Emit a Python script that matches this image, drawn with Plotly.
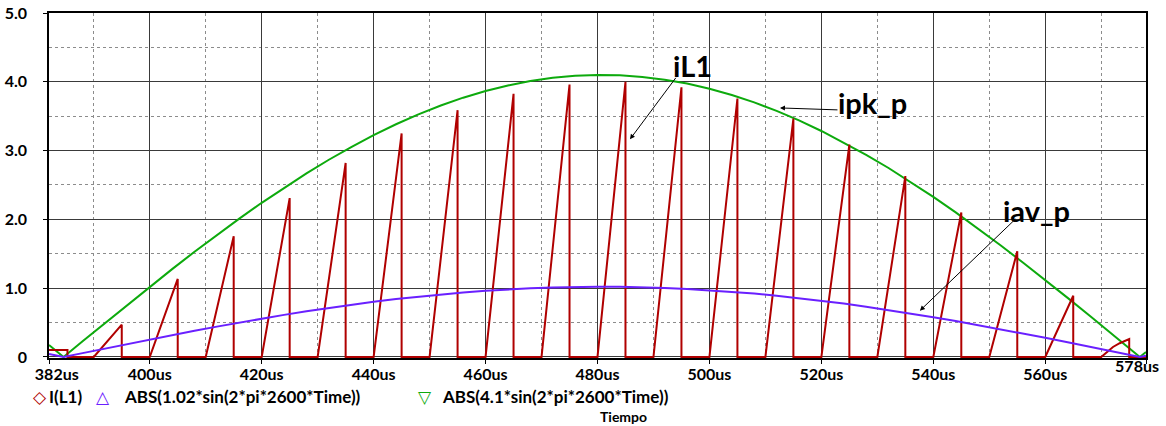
import plotly.graph_objects as go

# ---------------- data ----------------
# envelope sample times (us)
env_t = [382, 384.6, 388, 392, 396, 400, 404, 408, 412, 416, 420, 424, 428, 432, 436,
         440, 444, 448, 452, 456, 460, 464, 468, 472, 476, 480, 484, 488, 492, 496,
         500, 504, 508, 512, 516, 520, 524, 528, 532, 536, 540, 544, 548, 552, 556,
         560, 564, 568, 572, 576, 576.9, 578]
# ABS(4.1*sin(2*pi*2600*Time))  -> ipk_p
ipk = [0.175, 0.0, 0.227, 0.493, 0.758, 1.020, 1.277, 1.529, 1.774, 2.011, 2.241, 2.460,
       2.669, 2.867, 3.052, 3.224, 3.383, 3.526, 3.655, 3.769, 3.866, 3.947, 4.011, 4.058,
       4.088, 4.100, 4.094, 4.071, 4.031, 3.974, 3.899, 3.808, 3.701, 3.577, 3.439, 3.285,
       3.118, 2.939, 2.747, 2.541, 2.326, 2.101, 1.866, 1.624, 1.374, 1.119, 0.859, 0.595,
       0.330, 0.062, 0.0, 0.072]
# ABS(1.02*sin(2*pi*2600*Time))  -> iav_p
iav = [0.044, 0.0, 0.056, 0.123, 0.189, 0.254, 0.318, 0.380, 0.441, 0.500, 0.557, 0.612,
       0.664, 0.713, 0.759, 0.802, 0.842, 0.877, 0.909, 0.938, 0.962, 0.982, 0.998, 1.010,
       1.017, 1.020, 1.019, 1.013, 1.003, 0.989, 0.970, 0.947, 0.921, 0.890, 0.855, 0.817,
       0.776, 0.731, 0.683, 0.632, 0.579, 0.523, 0.464, 0.404, 0.342, 0.278, 0.214, 0.148,
       0.082, 0.015, 0.0, 0.018]

# I(L1): initial residual step, then triangular pulses every 10 us
init_t = [382, 385.3]
init_i = [0.10, 0.10]
ramp_start = [390, 400, 410, 420, 430, 440, 450, 460, 470, 480, 490, 500, 510, 520,
              530, 540, 550, 560]
ramp_end = [395, 405, 415, 425, 435, 445, 455, 465, 475, 485, 495, 505, 515, 525,
            535, 545, 555, 565]
peak_i = [0.47, 1.135, 1.754, 2.31, 2.82, 3.25, 3.587, 3.825, 3.96, 4.0, 3.92, 3.757,
          3.466, 3.088, 2.63, 2.10, 1.536, 0.89]
last_t = [570, 572.1, 573.3, 575]
last_i = [0.0, 0.145, 0.20, 0.26]
end_t = 578

x_ticks = [382, 400, 420, 440, 460, 480, 500, 520, 540, 560]
x_ticktext = ["\u00a0\u00a0\u00a0\u00a0382us", "400us", "420us", "440us", "460us", "480us",
              "500us", "520us", "540us", "560us"]
x_end_tick = [578]
x_end_text = ["578us"]
x_minor = [390, 410, 430, 450, 470, 490, 510, 530, 550, 570]
y_ticks = [0, 1, 2, 3, 4, 5]
y_ticktext = ["0", "1.0", "2.0", "3.0", "4.0", "5.0"]
y_minor = [0.5, 1.5, 2.5, 3.5, 4.5]

legend_labels = ["I(L1)", "ABS(1.02*sin(2*pi*2600*Time))", "ABS(4.1*sin(2*pi*2600*Time))"]

# ---------------- build I(L1) path ----------------
il_t = list(init_t) + [init_t[-1]]
il_i = list(init_i) + [0.0]
for s, e, p in zip(ramp_start, ramp_end, peak_i):
    il_t += [s, e, e]
    il_i += [0.0, p, 0.0]
il_t += last_t + [last_t[-1], end_t]
il_i += last_i + [0.0, 0.0]

RED = "#B00000"
GREEN = "#0DAA0D"
BLUE = "#6A20FF"
FONT = "Lato"

fig = go.Figure()
fig.add_trace(go.Scatter(x=env_t, y=ipk, mode="lines", line=dict(color=GREEN, width=2),
                         showlegend=False, hoverinfo="skip"))
fig.add_trace(go.Scatter(x=il_t, y=il_i, mode="lines", line=dict(color=RED, width=2),
                         showlegend=False, hoverinfo="skip"))
# the blue envelope is drawn on the overlaying time axis (same range) that carries the end label
fig.add_trace(go.Scatter(x=env_t, y=iav, mode="lines", line=dict(color=BLUE, width=2),
                         showlegend=False, hoverinfo="skip", xaxis="x2", yaxis="y"))

GRID = "#3a3a3a"
MINOR = "#8c8c8c"
TICKFONT = dict(family=FONT, size=16, color="black", weight=700)

fig.update_layout(
    xaxis=dict(
        range=[382, 578], tickmode="array", tickvals=x_ticks + x_end_tick,
        ticktext=x_ticktext + [""],
        showgrid=True, gridcolor=GRID, gridwidth=1.2,
        ticks="outside", ticklen=4, tickcolor="black", tickwidth=1,
        tickfont=TICKFONT,
        showline=True, linecolor="black", linewidth=1.5, mirror=True,
        zeroline=False, layer="below traces", ticklabelstandoff=-3,
        automargin=False, ticklabeloverflow="allow",
        minor=dict(tickmode="array", tickvals=x_minor, showgrid=True, gridcolor=MINOR,
                   gridwidth=1, griddash="dot", ticks=""),
    ),
    xaxis2=dict(
        range=[382, 578], matches="x", overlaying="x", anchor="y", side="bottom",
        tickmode="array", tickvals=x_end_tick, ticktext=x_end_text,
        ticklabelposition="outside left", ticklabelshift=13, ticklabelstandoff=-3,
        ticks="", tickfont=TICKFONT, showgrid=False, showline=False, zeroline=False,
        automargin=False, ticklabeloverflow="allow", layer="below traces",
    ),
    yaxis=dict(
        range=[-0.015, 5.0], tickmode="array", tickvals=y_ticks, ticktext=y_ticktext,
        showgrid=True, gridcolor=GRID, gridwidth=1.2,
        ticks="outside", ticklen=4, tickcolor="black", tickwidth=1,
        tickfont=TICKFONT,
        showline=True, linecolor="black", linewidth=1.5, mirror=True,
        zeroline=False, layer="below traces", ticklabelstandoff=13,
        automargin=False, ticklabeloverflow="allow",
        minor=dict(tickmode="array", tickvals=y_minor, showgrid=True, gridcolor=MINOR,
                   gridwidth=1, griddash="dot", ticks=""),
    ),
)

ann = []
# callouts: arrows (tip in data coords, tail offset in px) and labels
arrows = [(485.8, 3.164, 47, -63), (512.6, 3.62, 59, 2), (537.6, 0.673, 97, -93)]
for (tx, ty, ax, ay) in arrows:
    ann.append(dict(x=tx, y=ty, xref="x", yref="y", text="", showarrow=True,
                    arrowhead=2, arrowsize=1, arrowwidth=1, arrowcolor="black",
                    ax=ax, ay=ay, axref="pixel", ayref="pixel"))
labels = [("iL1", 496.9, 4.24), ("ipk_p", 529.1, 3.70), ("iav_p", 558.5, 2.13)]
for (txt, lx, ly) in labels:
    ann.append(dict(x=lx, y=ly, xref="x", yref="y", text="<b>%s</b>" % txt,
                    showarrow=False, xanchor="center", yanchor="middle",
                    font=dict(family=FONT, size=29, color="black")))

# legend row (symbols + labels) below the axis
LY = -0.113
sym = [("◇", RED, -0.0082), ("△", BLUE, 0.0488), ("▽", GREEN, 0.3427)]
for (s, c, sx) in sym:
    ann.append(dict(x=sx, y=LY, xref="paper", yref="paper", text=s, showarrow=False,
                    xanchor="center", yanchor="middle", borderpad=0,
                    font=dict(family="DejaVu Sans", size=17, color=c)))
leg_x = [-0.0012, 0.0675, 0.3575]
for txt, lx in zip(legend_labels, leg_x):
    ann.append(dict(x=lx, y=LY, xref="paper", yref="paper", text="<b>%s</b>" % txt,
                    showarrow=False, xanchor="left", yanchor="middle", borderpad=0,
                    font=dict(family=FONT, size=17, color="black")))
ann.append(dict(x=0.524, y=-0.171, xref="paper", yref="paper", text="<b>Tiempo</b>",
                showarrow=False, xanchor="center", yanchor="middle", borderpad=0,
                font=dict(family=FONT, size=14, color="black")))

fig.update_layout(
    width=1166, height=426,
    margin=dict(l=49, r=20, t=13, b=68, pad=0),
    paper_bgcolor="white", plot_bgcolor="white",
    showlegend=False, annotations=ann,
)

fig.write_html("out.html")
